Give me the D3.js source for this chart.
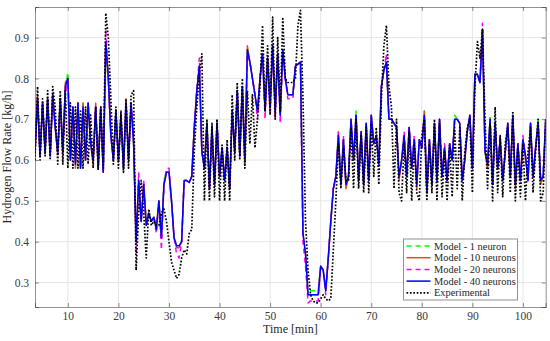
<!DOCTYPE html>
<html>
<head>
<meta charset="utf-8">
<script src="https://d3js.org/d3.v7.min.js"></script>
<style>
  body { margin: 0; background: #fff; }
</style>
</head>
<body>
<div id="chart"></div>
<script>
// sampling: one value every half minute starting at t0
var t0 = 3.5, dt = 0.5;

// experimental hydrogen flow [kg/h]
var expData = [
  .60,.78,.60,.75,.61,.77,.60,.78,.73,.59,
  .77,.59,.77,.58,.74,.58,.73,.58,.72,.58,
  .73,.59,.71,.58,.73,.575,.73,.58,.96,.90,
  .75,.59,.73,.58,.72,.57,.75,.58,.76,.77,
  .33,.47,.55,.47,.36,.48,.44,.45,.44,.44,
  .47,.48,.45,.40,.35,.33,.31,.32,.36,.38,
  .37,.42,.43,.62,.73,.81,.86,.50,.70,.50,
  .69,.51,.70,.50,.64,.50,.65,.50,.76,.60,
  .79,.60,.80,.58,.77,.64,.76,.63,.70,.78,
  .93,.72,.88,.71,.95,.70,.90,.72,.95,.80,
  .79,.79,.79,.80,.93,.967,.75,.45,.33,.27,
  .255,.25,.25,.26,.27,.26,.255,.26,.38,.50,
  .64,.53,.63,.55,.55,.68,.53,.70,.53,.66,
  .52,.68,.52,.69,.56,.68,.54,.75,.88,.93,
  .78,.73,.53,.70,.52,.50,.64,.52,.67,.50,
  .64,.52,.50,.66,.70,.50,.64,.52,.70,.50,
  .69,.51,.62,.50,.63,.51,.68,.53,.68,.50,
  .62,.68,.70,.52,.78,.89,.85,.92,.70,.53,
  .69,.50,.73,.52,.66,.51,.64,.68,.52,.72,
  .50,.63,.51,.64,.50,.62,.68,.52,.62,.70,
  .50,.52,.69
];

// model - 1 neuron
var model1 = [
  .62,.75,.61,.74,.62,.75,.61,.76,.68,.62,
  .75,.62,.78,.815,.60,.73,.59,.74,.58,.74,
  .60,.74,.64,.60,.73,.58,.73,.57,.85,.80,
  .66,.60,.72,.60,.71,.58,.74,.60,.74,.64,
  .41,.55,.445,.54,.45,.47,.45,.46,.44,.50,
  .42,.55,.57,.57,.50,.41,.39,.39,.40,.55,
  .55,.545,.56,.68,.77,.83,.62,.58,.70,.53,
  .68,.54,.70,.56,.63,.55,.63,.53,.72,.62,
  .77,.61,.78,.60,.87,.84,.80,.76,.72,.80,
  .86,.72,.85,.73,.88,.72,.86,.71,.87,.80,
  .76,.76,.76,.83,.835,.84,.42,.37,.28,.28,
  .28,.28,.28,.34,.33,.28,.36,.45,.53,.56,
  .67,.54,.65,.54,.56,.70,.60,.72,.55,.67,
  .54,.69,.55,.71,.64,.66,.59,.78,.82,.84,
  .70,.70,.69,.68,.56,.60,.66,.56,.68,.58,
  .65,.54,.65,.63,.72,.52,.65,.54,.69,.55,
  .70,.56,.63,.55,.64,.60,.71,.70,.69,.55,
  .60,.67,.71,.58,.81,.81,.79,.92,.62,.59,
  .71,.54,.70,.58,.65,.55,.62,.69,.56,.71,
  .54,.64,.55,.65,.61,.55,.69,.56,.63,.70,
  .55,.56,.70
];

// model - 10 neurons
var model10 = [
  .62,.76,.61,.74,.62,.75,.61,.76,.68,.62,
  .75,.61,.79,.80,.60,.73,.58,.74,.58,.74,
  .60,.74,.64,.59,.74,.58,.73,.57,.89,.80,
  .66,.60,.72,.60,.71,.58,.75,.60,.74,.64,
  .40,.55,.45,.54,.44,.47,.45,.46,.43,.50,
  .41,.54,.57,.57,.50,.41,.385,.385,.40,.55,
  .55,.545,.56,.68,.77,.83,.62,.58,.69,.53,
  .68,.54,.69,.56,.63,.55,.63,.53,.72,.62,
  .77,.61,.78,.59,.88,.84,.80,.76,.72,.80,
  .86,.72,.85,.73,.88,.72,.86,.71,.87,.80,
  .76,.76,.76,.83,.835,.84,.42,.37,.27,.27,
  .27,.27,.27,.34,.33,.28,.36,.45,.53,.56,
  .66,.54,.65,.53,.56,.70,.60,.71,.55,.67,
  .54,.69,.55,.71,.64,.66,.59,.78,.82,.84,
  .70,.70,.69,.68,.55,.60,.66,.56,.68,.58,
  .65,.53,.65,.63,.72,.52,.65,.54,.69,.55,
  .70,.56,.63,.55,.64,.60,.70,.70,.69,.55,
  .60,.67,.71,.58,.81,.81,.79,.92,.62,.58,
  .70,.54,.69,.58,.65,.55,.62,.69,.56,.71,
  .53,.64,.55,.65,.61,.55,.69,.56,.63,.69,
  .54,.56,.70
];

// model - 20 neurons
var model20 = [
  .61,.75,.61,.74,.62,.75,.61,.76,.68,.61,
  .75,.62,.76,.80,.60,.73,.59,.74,.58,.73,
  .60,.74,.66,.60,.73,.58,.73,.57,.92,.80,
  .66,.60,.72,.59,.71,.58,.74,.60,.74,.67,
  .37,.57,.45,.55,.44,.47,.45,.46,.42,.50,
  .38,.54,.58,.58,.50,.41,.37,.36,.40,.55,
  .55,.545,.56,.68,.77,.85,.62,.58,.69,.53,
  .68,.54,.69,.56,.63,.55,.63,.53,.72,.62,
  .77,.61,.78,.60,.86,.84,.80,.76,.70,.80,
  .86,.70,.85,.71,.88,.70,.86,.69,.87,.80,
  .75,.75,.75,.83,.835,.84,.40,.34,.25,.255,
  .255,.255,.255,.34,.33,.27,.36,.45,.53,.56,
  .67,.54,.66,.54,.56,.70,.60,.71,.55,.67,
  .54,.69,.55,.71,.64,.66,.59,.78,.82,.86,
  .70,.70,.69,.68,.56,.60,.67,.56,.68,.58,
  .66,.54,.65,.63,.71,.52,.65,.54,.69,.55,
  .70,.56,.64,.55,.64,.60,.70,.70,.69,.55,
  .61,.67,.71,.58,.81,.81,.79,.935,.62,.59,
  .70,.54,.69,.58,.66,.55,.62,.69,.56,.71,
  .54,.64,.55,.66,.61,.55,.69,.56,.63,.69,
  .55,.56,.70
];

// model - 40 neurons
var model40 = [
  .62,.75,.61,.74,.62,.75,.61,.76,.68,.62,
  .75,.62,.78,.80,.60,.73,.59,.74,.58,.73,
  .60,.74,.64,.60,.73,.58,.73,.57,.89,.80,
  .66,.60,.72,.60,.71,.58,.74,.60,.74,.64,
  .40,.55,.45,.54,.44,.47,.45,.46,.43,.50,
  .41,.54,.57,.57,.50,.41,.39,.39,.40,.55,
  .55,.545,.56,.68,.77,.83,.62,.58,.69,.53,
  .68,.54,.69,.56,.63,.55,.63,.53,.72,.62,
  .77,.61,.78,.60,.87,.84,.80,.76,.72,.80,
  .86,.72,.85,.73,.88,.72,.86,.71,.87,.80,
  .76,.76,.76,.83,.835,.84,.42,.37,.27,.27,
  .27,.27,.27,.34,.33,.28,.36,.45,.53,.56,
  .66,.54,.65,.54,.56,.70,.60,.71,.55,.67,
  .54,.69,.55,.71,.64,.66,.59,.78,.82,.84,
  .70,.70,.69,.68,.56,.60,.66,.56,.68,.58,
  .65,.54,.65,.63,.71,.52,.65,.54,.69,.55,
  .70,.56,.63,.55,.64,.60,.70,.70,.69,.55,
  .60,.67,.71,.58,.81,.81,.79,.92,.62,.59,
  .70,.54,.69,.58,.65,.55,.62,.69,.56,.71,
  .54,.64,.55,.65,.61,.55,.69,.56,.63,.69,
  .55,.56,.70
];

var xTicks = [10, 20, 30, 40, 50, 60, 70, 80, 90, 100];
var yTicks = [0.3, 0.4, 0.5, 0.6, 0.7, 0.8, 0.9];
var legendNames = ["Model - 1 neuron", "Model - 10 neurons", "Model - 20 neurons", "Model - 40 neurons", "Experimental"];

var series = [
  {name: legendNames[0], values: model1,  color: "#00ff00", width: 1.5, dash: "5,4"},
  {name: legendNames[1], values: model10, color: "#D95319", width: 1.5, dash: null},
  {name: legendNames[2], values: model20, color: "#ff00ff", width: 1.5, dash: "5,4"},
  {name: legendNames[3], values: model40, color: "#0000ff", width: 1.5, dash: null},
  {name: legendNames[4], values: expData, color: "#000000", width: 1.7, dash: "1.7,1.7"}
];

var W = 550, H = 341;
var margin = {top: 7, right: 4.3, bottom: 34, left: 35};
var width = W - margin.left - margin.right,
    height = H - margin.top - margin.bottom;
var serif = '"Liberation Serif", "Times New Roman", serif';

var svg = d3.select("#chart").append("svg")
  .attr("width", W).attr("height", H);

var g = svg.append("g")
  .attr("transform", "translate(" + margin.left + "," + margin.top + ")");

var x = d3.scaleLinear().domain([3.5, 104.5]).range([0, width]);
var y = d3.scaleLinear().domain([0.24, 0.975]).range([height, 0]);

// grid
g.append("g").selectAll("line").data(xTicks).enter().append("line")
  .attr("x1", function(d) { return x(d); }).attr("x2", function(d) { return x(d); })
  .attr("y1", 0).attr("y2", height)
  .attr("stroke", "#e6e6e6").attr("stroke-width", 1);
g.append("g").selectAll("line").data(yTicks).enter().append("line")
  .attr("y1", function(d) { return y(d); }).attr("y2", function(d) { return y(d); })
  .attr("x1", 0).attr("x2", width)
  .attr("stroke", "#e6e6e6").attr("stroke-width", 1);

svg.append("defs").append("clipPath").attr("id", "clip").append("rect")
  .attr("width", width).attr("height", height);

var line = d3.line()
  .x(function(d, i) { return x(t0 + i * dt); })
  .y(function(d) { return y(d); });

var plot = g.append("g").attr("clip-path", "url(#clip)");
series.forEach(function(s) {
  plot.append("path")
    .datum(s.values)
    .attr("fill", "none")
    .attr("stroke", s.color)
    .attr("stroke-width", s.width)
    .attr("stroke-dasharray", s.dash)
    .attr("stroke-linejoin", "round")
    .attr("d", line);
});

// axes (ticks inward, box on)
var xAxis = d3.axisBottom(x).tickValues(xTicks).tickSize(-4).tickPadding(5).tickFormat(d3.format("d"));
var yAxis = d3.axisLeft(y).tickValues(yTicks).tickSize(-4).tickPadding(6).tickFormat(d3.format(".1f"));

g.append("g").attr("class", "ax").attr("transform", "translate(0," + height + ")").call(xAxis);
g.append("g").attr("class", "ax").call(yAxis);
g.append("g").attr("transform", "translate(" + width + ",0)")
  .call(d3.axisRight(y).tickValues(yTicks).tickSize(-4).tickFormat(""));
g.append("g")
  .call(d3.axisTop(x).tickValues(xTicks).tickSize(-4).tickFormat(""));

g.selectAll(".domain").attr("stroke", "#262626").attr("stroke-opacity", 0.5);
g.selectAll(".tick line").attr("stroke", "#262626").attr("stroke-opacity", 0.5);
g.selectAll(".ax")
  .attr("font-family", serif).attr("font-size", 11.5);
g.selectAll(".ax .tick text").attr("fill", "#3a3a3a");

// labels
svg.append("text")
  .attr("font-family", serif).attr("font-size", 12).attr("fill", "#262626")
  .attr("x", margin.left + width / 2).attr("y", 333)
  .attr("text-anchor", "middle").text("Time [min]");
svg.append("text")
  .attr("font-family", serif).attr("font-size", 12).attr("fill", "#262626")
  .attr("transform", "translate(11," + (margin.top + height / 2) + ") rotate(-90)")
  .attr("text-anchor", "middle").text("Hydrogen Flow Rate [kg/h]");

// legend
var leg = svg.append("g").attr("transform", "translate(403.5,239)");
leg.append("rect").attr("width", 114).attr("height", 61)
  .attr("fill", "#fff").attr("stroke", "#262626").attr("stroke-opacity", 0.5);
series.forEach(function(s, i) {
  var yy = 7 + i * 11.7;
  leg.append("line")
    .attr("x1", 3).attr("x2", 27).attr("y1", yy).attr("y2", yy)
    .attr("stroke", s.color).attr("stroke-width", s.width)
    .attr("stroke-dasharray", s.dash);
  leg.append("text")
    .attr("font-family", serif).attr("font-size", 10.4).attr("fill", "#262626")
    .attr("x", 30.5).attr("y", yy + 3.6).text(s.name);
});
</script>
</body>
</html>
